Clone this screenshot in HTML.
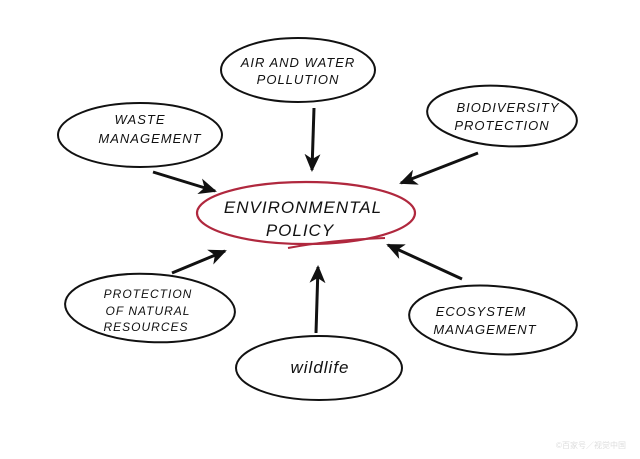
<!DOCTYPE html>
<html><head><meta charset="utf-8"><style>
html,body{margin:0;padding:0;background:#fff;}
svg{display:block}
text{font-family:"Liberation Sans",sans-serif;font-style:italic;fill:#111;text-anchor:middle}
</style></head><body>
<svg width="640" height="459" viewBox="0 0 640 459" xmlns="http://www.w3.org/2000/svg">
<defs>
<marker id="a" markerWidth="18" markerHeight="16" refX="16" refY="8" orient="auto" markerUnits="userSpaceOnUse" viewBox="0 0 18 16">
<path d="M0,0 L18,8 L0,16 L5,8 Z" fill="#111"/>
</marker>
</defs>
<rect width="640" height="459" fill="#fff"/>
<g fill="none" stroke="#111" stroke-width="2">
<ellipse cx="298" cy="70" rx="77" ry="32"/>
<ellipse cx="502" cy="116" rx="75" ry="30" transform="rotate(4 502 116)"/>
<ellipse cx="140" cy="135" rx="82" ry="32"/>
<ellipse cx="150" cy="308" rx="85" ry="34" transform="rotate(3 150 308)"/>
<ellipse cx="493" cy="320" rx="84" ry="34" transform="rotate(4 493 320)"/>
<ellipse cx="319" cy="368" rx="83" ry="32"/>
</g>
<g stroke="#111" stroke-width="3" fill="none">
<line x1="314" y1="108" x2="312" y2="170" marker-end="url(#a)"/>
<line x1="478" y1="153" x2="401" y2="183" marker-end="url(#a)"/>
<line x1="153" y1="172" x2="215" y2="191" marker-end="url(#a)"/>
<line x1="172" y1="273" x2="225" y2="251" marker-end="url(#a)"/>
<line x1="316" y1="333" x2="318" y2="267" marker-end="url(#a)"/>
<line x1="462" y1="279" x2="388" y2="245" marker-end="url(#a)"/>
</g>
<ellipse cx="306" cy="213" rx="109" ry="31" fill="none" stroke="#b0283e" stroke-width="2.2"/>
<path d="M288 248 Q330 240 385 238" fill="none" stroke="#b0283e" stroke-width="2"/>
<text x="303" y="213" font-size="17" letter-spacing="1">ENVIRONMENTAL</text>
<text x="300" y="236" font-size="17" letter-spacing="1">POLICY</text>
<text x="298" y="67" font-size="13" letter-spacing="1">AIR AND WATER</text>
<text x="298" y="84" font-size="13" letter-spacing="1">POLLUTION</text>
<text x="508" y="112" font-size="13" letter-spacing="1">BIODIVERSITY</text>
<text x="502" y="130" font-size="13" letter-spacing="1">PROTECTION</text>
<text x="140" y="124" font-size="13" letter-spacing="1">WASTE</text>
<text x="150" y="143" font-size="13" letter-spacing="1">MANAGEMENT</text>
<text x="148" y="298" font-size="12" letter-spacing="1">PROTECTION</text>
<text x="148" y="315" font-size="12" letter-spacing="1">OF NATURAL</text>
<text x="146" y="331" font-size="12" letter-spacing="1">RESOURCES</text>
<text x="481" y="316" font-size="13" letter-spacing="1">ECOSYSTEM</text>
<text x="485" y="334" font-size="13" letter-spacing="1">MANAGEMENT</text>
<text x="320" y="373" font-size="17" letter-spacing="1">wildlife</text>
<text x="591" y="448" font-size="8" style="font-style:normal;fill:#ddd;font-family:'Liberation Sans','Noto Sans CJK SC',sans-serif">©百家号／视觉中国</text>
</svg>
</body></html>
